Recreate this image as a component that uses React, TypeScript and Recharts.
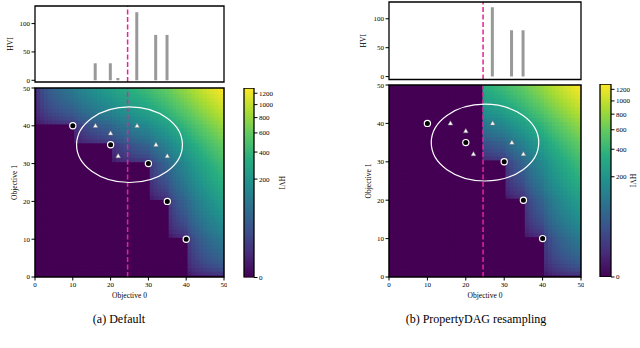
import React from "react";
import {
  ComposedChart,
  Scatter,
  Bar,
  XAxis,
  YAxis,
  ReferenceLine,
  ReferenceArea,
  Label,
} from "recharts";

const FONT = "'Liberation Serif', 'Times New Roman', serif";

// candidate points (triangles) and the HVI bars
const CAND_X = [16, 20, 22, 27, 32, 35];
const CAND_Y = [40, 38, 32, 40, 35, 32];
const HVI_DEFAULT = [30, 30, 4, 120, 80, 80];
const HVI_RESAMPLED = [0, 0, 0, 120, 80, 80];

// current pareto front (black circles)
const FRONT_X = [10, 20, 30, 35, 40];
const FRONT_Y = [40, 35, 30, 20, 10];

const OBJ_TICKS = [0, 10, 20, 30, 40, 50];
const HVI_TICKS = [0, 50, 100];
const CBAR_TICKS = [0, 200, 400, 600, 800, 1000, 1200];

const OBJ_MAX = 50;
const SPLIT_X = 24.5;
const ELLIPSE = { x: 25, y: 35, rx: 14, ry: 10 };

// colour scale: power norm on top of viridis
const HVI_MAX = 1300;
const GAMMA = 0.35;
const VIRIDIS = [
  "#440154", "#472c7a", "#3b518b", "#2c718e", "#21908d",
  "#27ad81", "#5cc863", "#aadc32", "#fde725",
];

const norm = (v: number) => Math.min(1, Math.pow(Math.max(v, 0) / HVI_MAX, GAMMA));
const denorm = (t: number) => HVI_MAX * Math.pow(t, 1 / GAMMA);

function hexToRgb(h: string) {
  const n = parseInt(h.slice(1), 16);
  return [(n >> 16) & 255, (n >> 8) & 255, n & 255];
}
const VIR_RGB = VIRIDIS.map(hexToRgb);

function viridis(t: number) {
  const s = t * (VIR_RGB.length - 1);
  const i = Math.min(VIR_RGB.length - 2, Math.floor(s));
  const f = s - i;
  const a = VIR_RGB[i];
  const b = VIR_RGB[i + 1];
  const c = a.map((ai, k) => Math.round(ai + (b[k] - ai) * f));
  return `rgb(${c[0]},${c[1]},${c[2]})`;
}

// 2d hypervolume w.r.t. reference point (0, 0), maximising
function hypervolume(xs: number[], ys: number[]) {
  const pts = xs
    .map((x, i) => [x, ys[i]])
    .filter((p) => p[0] > 0 && p[1] > 0)
    .sort((a, b) => b[0] - a[0]);
  let area = 0;
  let top = 0;
  for (const [x, y] of pts) {
    if (y > top) {
      area += x * (y - top);
      top = y;
    }
  }
  return area;
}
const BASE_HV = hypervolume(FRONT_X, FRONT_Y);
const hvi = (x: number, y: number) =>
  hypervolume([...FRONT_X, x], [...FRONT_Y, y]) - BASE_HV;

function buildGrid(masked: boolean) {
  const cells: { x: number; y: number; v: number }[] = [];
  for (let i = 0; i <= OBJ_MAX; i++) {
    for (let j = 0; j <= OBJ_MAX; j++) {
      cells.push({ x: i, y: j, v: masked && i < SPLIT_X ? 0 : hvi(i, j) });
    }
  }
  return cells;
}

const frontData = FRONT_X.map((x, i) => ({ x, y: FRONT_Y[i] }));
const candData = CAND_X.map((x, i) => ({ x, y: CAND_Y[i] }));
const cbarData = [{ name: "HVI", level: 1 }];

type Box = { x0: number; x1: number; y0: number; y1: number };

const PANELS = [
  {
    id: "a",
    caption: "(a) Default",
    bars: HVI_DEFAULT,
    masked: false,
    bar: { x0: 35, x1: 224, y0: 5.5, y1: 81.5 },
    barDomain: [-3, 131],
    heat: { x0: 35, x1: 224, y0: 88, y1: 277 },
    cbar: { x0: 244, x1: 254, y0: 87.5, y1: 277 },
    barLabelX: 10.5,
    heatLabelX: 14,
    cbarLabelX: 282,
    captionX: 119,
  },
  {
    id: "b",
    caption: "(b) PropertyDAG resampling",
    bars: HVI_RESAMPLED,
    masked: true,
    bar: { x0: 388.5, x1: 580.5, y0: 1.5, y1: 79 },
    barDomain: [-5, 129],
    heat: { x0: 388.5, x1: 580.5, y0: 85, y1: 277 },
    cbar: { x0: 600, x1: 611, y0: 84, y1: 277 },
    barLabelX: 363,
    heatLabelX: 368,
    cbarLabelX: 633,
    captionX: 476,
  },
];

const tickStyle = { fontSize: 7, fill: "#000", fontFamily: FONT };
const labelProps = { fontSize: 7.5, fill: "#000", fontFamily: FONT };
const DASH = { stroke: "#e8219a", strokeWidth: 1.5, strokeDasharray: "5 2.5" };

function HviBars({ p }: { p: (typeof PANELS)[number] }) {
  const g: Box = p.bar;
  const w = 2 * (g.x0 - p.barLabelX);
  const pad = 3;
  const data = CAND_X.map((x, i) => ({ x, hvi: p.bars[i] }));
  return (
    <div style={{ position: "absolute", left: g.x0 - w, top: g.y0 - pad }}>
      <ComposedChart
        width={w + (g.x1 - g.x0) + pad}
        height={pad + (g.y1 - g.y0) + 6}
        data={data}
        margin={{ top: pad, right: pad, left: 0, bottom: 0 }}
      >
        <XAxis
          type="number"
          dataKey="x"
          domain={[0, OBJ_MAX]}
          ticks={OBJ_TICKS}
          tick={false}
          tickSize={3.5}
          height={6}
          stroke="#000"
          axisLine={false}
          allowDataOverflow
        />
        <YAxis
          type="number"
          domain={p.barDomain}
          ticks={HVI_TICKS}
          width={w}
          tick={tickStyle}
          tickSize={3.5}
          tickMargin={1.5}
          stroke="#000"
          axisLine={false}
          allowDataOverflow
        >
          <Label value="HVI" angle={-90} position="center" {...labelProps} />
        </YAxis>
        <Bar dataKey="hvi" fill="#999999" barSize={3} isAnimationActive={false} />
        <ReferenceLine x={SPLIT_X} {...DASH} zIndex={900} />
        <ReferenceArea
          x1={0}
          x2={OBJ_MAX}
          y1={p.barDomain[0]}
          y2={p.barDomain[1]}
          fill="none"
          stroke="#000"
          strokeWidth={1.3}
          zIndex={1000}
        />
      </ComposedChart>
    </div>
  );
}

function HeatMap({ p }: { p: (typeof PANELS)[number] }) {
  const g: Box = p.heat;
  const w = 2 * (g.x0 - p.heatLabelX);
  const xh = 36;
  const pad = 3;
  const cw = (g.x1 - g.x0) / OBJ_MAX;
  const ch = (g.y1 - g.y0) / OBJ_MAX;
  const cells = buildGrid(p.masked);
  return (
    <div style={{ position: "absolute", left: g.x0 - w, top: g.y0 - pad }}>
      <ComposedChart
        width={w + (g.x1 - g.x0) + pad}
        height={pad + (g.y1 - g.y0) + xh}
        margin={{ top: pad, right: pad, left: 0, bottom: 0 }}
      >
        <XAxis
          type="number"
          dataKey="x"
          domain={[0, OBJ_MAX]}
          ticks={OBJ_TICKS}
          interval={0}
          tick={tickStyle}
          tickSize={3.5}
          tickMargin={1.5}
          height={xh}
          stroke="#000"
          axisLine={false}
          allowDataOverflow
        >
          <Label value="Objective 0" position="center" {...labelProps} />
        </XAxis>
        <YAxis
          type="number"
          dataKey="y"
          domain={[0, OBJ_MAX]}
          ticks={OBJ_TICKS}
          interval={0}
          width={w}
          tick={tickStyle}
          tickSize={3.5}
          tickMargin={1.5}
          stroke="#000"
          axisLine={false}
          allowDataOverflow
        >
          <Label value="Objective 1" angle={-90} position="center" {...labelProps} />
        </YAxis>
        <Scatter
          data={cells}
          isAnimationActive={false}
          shape={(s: any) => (
            <rect
              x={s.cx - cw / 2 - 0.5}
              y={s.cy - ch / 2 - 0.5}
              width={cw + 1}
              height={ch + 1}
              fill={viridis(norm(s.payload.v))}
            />
          )}
        />
        <ReferenceLine x={SPLIT_X} {...DASH} zIndex={900} />
        <Scatter
          data={[ELLIPSE]}
          isAnimationActive={false}
          zIndex={910}
          shape={(s: any) => (
            <ellipse
              cx={s.cx}
              cy={s.cy}
              rx={ELLIPSE.rx * cw}
              ry={ELLIPSE.ry * ch}
              fill="none"
              stroke="#fff"
              strokeWidth={1.2}
            />
          )}
        />
        <Scatter
          data={frontData}
          isAnimationActive={false}
          zIndex={920}
          shape={(s: any) => (
            <circle cx={s.cx} cy={s.cy} r={3.1} fill="#000" stroke="#fff" strokeWidth={1.2} />
          )}
        />
        <Scatter
          data={candData}
          isAnimationActive={false}
          zIndex={920}
          shape={(s: any) => (
            <polygon
              points={`${s.cx},${s.cy - 2.6} ${s.cx - 2.4},${s.cy + 1.7} ${s.cx + 2.4},${s.cy + 1.7}`}
              fill="#fff"
              stroke="#777"
              strokeWidth={0.5}
            />
          )}
        />
        <ReferenceArea
          x1={0}
          x2={OBJ_MAX}
          y1={0}
          y2={OBJ_MAX}
          fill="none"
          stroke="#000"
          strokeWidth={1.5}
          zIndex={1000}
        />
      </ComposedChart>
    </div>
  );
}

function ColorBar({ p }: { p: (typeof PANELS)[number] }) {
  const g: Box = p.cbar;
  const w = 2 * (p.cbarLabelX - g.x1);
  const pad = 3;
  return (
    <div style={{ position: "absolute", left: g.x0 - pad, top: g.y0 - pad }}>
      <ComposedChart
        width={pad + (g.x1 - g.x0) + w}
        height={pad * 2 + (g.y1 - g.y0)}
        data={cbarData}
        barCategoryGap={0}
        margin={{ top: pad, right: 0, left: pad, bottom: pad }}
      >
        <XAxis type="category" dataKey="name" hide />
        <YAxis
          orientation="right"
          type="number"
          domain={[0, 1]}
          ticks={CBAR_TICKS.map(norm)}
          interval={0}
          tickFormatter={(v: number) => String(Math.round(denorm(v)))}
          width={w}
          tick={tickStyle}
          tickSize={3.5}
          tickMargin={1.5}
          stroke="#000"
          axisLine={false}
          allowDataOverflow
        >
          <Label value="HVI" angle={90} position="center" {...labelProps} />
        </YAxis>
        <Bar
          dataKey="level"
          fill="url(#viridis-grad)"
          stroke="#000"
          strokeWidth={1.3}
          isAnimationActive={false}
        />
      </ComposedChart>
    </div>
  );
}

export default function App() {
  return (
    <div
      style={{
        position: "absolute",
        left: 0,
        top: 0,
        width: 640,
        height: 348,
        background: "#fff",
        overflow: "hidden",
        fontFamily: FONT,
      }}
    >
      <svg width={0} height={0} style={{ position: "absolute" }}>
        <defs>
          <linearGradient id="viridis-grad" x1="0" y1="1" x2="0" y2="0">
            {VIRIDIS.map((c, i) => (
              <stop key={c} offset={i / (VIRIDIS.length - 1)} stopColor={c} />
            ))}
          </linearGradient>
        </defs>
      </svg>
      {PANELS.map((p) => (
        <React.Fragment key={p.id}>
          <HviBars p={p} />
          <HeatMap p={p} />
          <ColorBar p={p} />
          <div
            style={{
              position: "absolute",
              left: p.captionX - 100,
              width: 200,
              top: 312,
              textAlign: "center",
              fontSize: 12,
              color: "#000",
            }}
          >
            {p.caption}
          </div>
        </React.Fragment>
      ))}
    </div>
  );
}
